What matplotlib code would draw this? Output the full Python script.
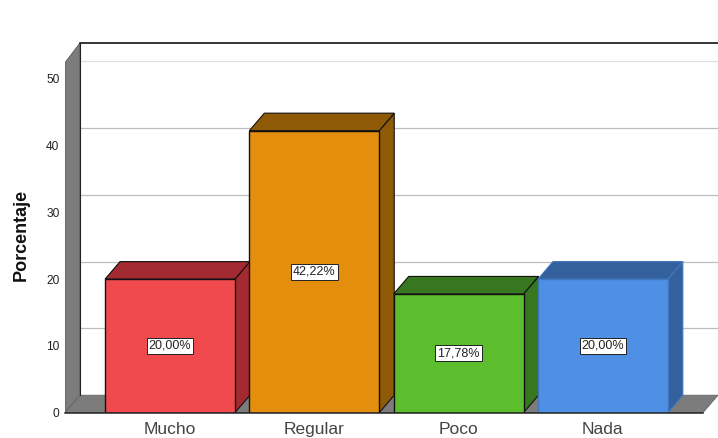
import matplotlib
matplotlib.use("Agg")
import matplotlib.pyplot as plt
from matplotlib.patches import Polygon

plt.rcParams['font.family'] = ['Liberation Sans', 'DejaVu Sans']

categories = ['Mucho', 'Regular', 'Poco', 'Nada']
values = [20.00, 42.22, 17.78, 20.00]
labels = ['20,00%', '42,22%', '17,78%', '20,00%']
front_colors = ['#F04A4E', '#E38E0C', '#5CBE2C', '#4F8FE4']
dark_colors = ['#A22A30', '#8F5A06', '#36771F', '#34609E']
edge_colors = ['#111111', '#111111', '#111111', '#3F78C0']
y_ticks = [0, 10, 20, 30, 40, 50]
y_top = 52.4

W, H = 718, 438
fig = plt.figure(figsize=(W / 100, H / 100), dpi=100, facecolor='white')
x0, x1, ybase, ytop = 65, 718, 412.7, 43
ax = fig.add_axes([x0 / W, 1 - ybase / H, (x1 - x0) / W, (ybase - ytop) / H])
px_x = 144.3
px_y = 6.68
ax.set_xlim((x0 - 170) / px_x, (x1 - 170) / px_x)
ax.set_ylim(0, (ybase - ytop) / px_y)
dx = 15 / px_x
dy = 17.5 / px_y
xl, xr = ax.get_xlim()
ymax = ax.get_ylim()[1]
for s in ax.spines.values():
    s.set_visible(False)
ax.set_xticks(range(len(categories)), categories, fontsize=12.5, color='#444444')
ax.set_yticks(y_ticks, [str(t) for t in y_ticks], fontsize=8.6, color='#222222')
ax.tick_params(axis='both', length=0)
ax.tick_params(axis='x', pad=6.5)
ax.tick_params(axis='y', pad=4)
ax.set_ylabel('Porcentaje', fontsize=13, fontweight='bold', color='#111111', labelpad=12, y=0.48)

# back-wall gridlines
for t in y_ticks[1:]:
    color = '#E0E0E0' if t == 50 else '#BDBDBD'
    ax.plot([xl + dx, xr], [t + dy, t + dy], color=color, lw=0.9, zorder=1)

# left wall and floor
ax.add_patch(Polygon([(xl, 0), (xl + dx, dy), (xl + dx, ymax), (xl, y_top)],
                     closed=True, fc='#7C7C7C', ec='#555555', lw=0.6, zorder=2))
ax.add_patch(Polygon([(xl, 0), (xr - dx, 0), (xr, dy), (xl + dx, dy)],
                     closed=True, fc='#7C7C7C', ec='#666666', lw=0.6, zorder=2))
ax.plot([xl + dx, xr], [ymax, ymax], color='black', lw=1.1, zorder=3, clip_on=False)
ax.plot([xl + dx, xl + dx], [dy, ymax], color='#222222', lw=0.8, zorder=3)

# bars
width = 0.9
for i, (v, fc, dc, ec, lab) in enumerate(zip(values, front_colors, dark_colors, edge_colors, labels)):
    z = 4 + i
    l, r = i - width / 2, i + width / 2
    ax.add_patch(Polygon([(r, 0), (r + dx, dy), (r + dx, v + dy), (r, v)],
                         closed=True, fc=dc, ec=ec, lw=0.8, zorder=z))
    ax.add_patch(Polygon([(l, v), (l + dx, v + dy), (r + dx, v + dy), (r, v)],
                         closed=True, fc=dc, ec=ec, lw=0.8, zorder=z))
    ax.bar(i, v, width=width, color=fc, edgecolor=ec, linewidth=1, zorder=z + 0.1)
    ax.text(i, v / 2, lab, ha='center', va='center', fontsize=9, color='#222222', zorder=20,
            bbox=dict(boxstyle='square,pad=0.16', fc='white', ec='#222222', lw=0.7))

ax.plot([xl, xr - dx], [0, 0], color='#222222', lw=1.1, zorder=12, clip_on=False)
fig.savefig('out.png', dpi=100, facecolor='white')
